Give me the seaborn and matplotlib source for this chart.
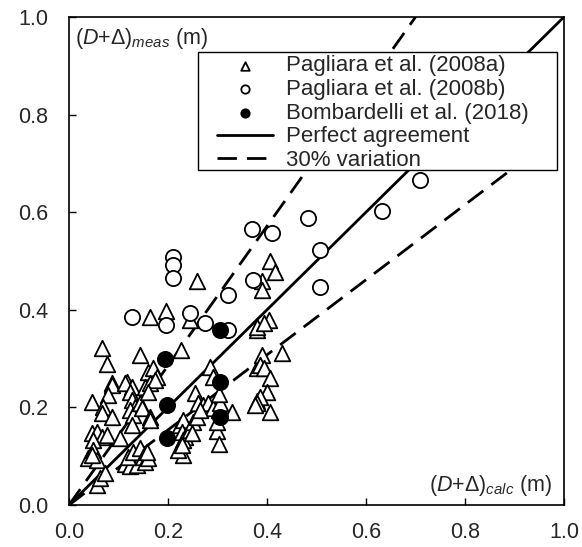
import numpy as np
import pandas as pd
import matplotlib
matplotlib.use('Agg')
import matplotlib.pyplot as plt
import matplotlib.patches as mpatches
import seaborn as sns

# Pagliara et al. (2008a) - triangles
tri_x = [0.258, 0.164, 0.196, 0.244, 0.066, 0.076, 0.143, 0.226, 0.160, 0.170, 0.178,
         0.285, 0.086, 0.117, 0.127, 0.291, 0.379, 0.380, 0.046, 0.086, 0.113, 0.079,
         0.069, 0.066, 0.086, 0.123, 0.127, 0.133, 0.123, 0.130, 0.127, 0.143, 0.147,
         0.164, 0.154, 0.164, 0.174, 0.160, 0.046, 0.056, 0.066, 0.076, 0.049, 0.103,
         0.039, 0.049, 0.056, 0.046, 0.056, 0.063, 0.073, 0.113, 0.123, 0.137, 0.120,
         0.130, 0.143, 0.150, 0.154, 0.160, 0.157, 0.164, 0.224, 0.231, 0.228, 0.234,
         0.231, 0.231, 0.244, 0.251, 0.258, 0.248, 0.221, 0.228, 0.255, 0.261, 0.271,
         0.281, 0.291, 0.302, 0.305, 0.302, 0.298, 0.302, 0.298, 0.329, 0.379, 0.265,
         0.406, 0.416, 0.389, 0.389, 0.403, 0.379, 0.393, 0.430, 0.389, 0.386, 0.393,
         0.406, 0.399, 0.386, 0.379, 0.406, 0.376]
tri_y = [0.458, 0.386, 0.398, 0.379, 0.321, 0.289, 0.307, 0.318, 0.273, 0.281, 0.263,
         0.283, 0.250, 0.253, 0.242, 0.263, 0.359, 0.280, 0.212, 0.246, 0.250, 0.225,
         0.201, 0.188, 0.181, 0.232, 0.215, 0.201, 0.195, 0.184, 0.164, 0.208, 0.198,
         0.181, 0.242, 0.249, 0.256, 0.232, 0.147, 0.150, 0.140, 0.143, 0.133, 0.137,
         0.096, 0.113, 0.092, 0.102, 0.041, 0.055, 0.065, 0.085, 0.079, 0.082, 0.099,
         0.109, 0.116, 0.099, 0.089, 0.096, 0.109, 0.174, 0.164, 0.174, 0.150, 0.140,
         0.133, 0.102, 0.154, 0.171, 0.181, 0.147, 0.113, 0.123, 0.229, 0.209, 0.205,
         0.209, 0.199, 0.195, 0.209, 0.227, 0.152, 0.125, 0.170, 0.191, 0.213, 0.195,
         0.499, 0.478, 0.458, 0.441, 0.379, 0.365, 0.372, 0.311, 0.307, 0.287, 0.280,
         0.260, 0.232, 0.222, 0.208, 0.191, 0.205]

# Pagliara et al. (2008b) - open circles
circ_x = [0.211, 0.211, 0.211, 0.127, 0.196, 0.244, 0.275, 0.322, 0.372, 0.322,
          0.507, 0.507, 0.709, 0.632, 0.483, 0.369, 0.411]
circ_y = [0.509, 0.492, 0.465, 0.386, 0.369, 0.394, 0.372, 0.430, 0.462, 0.359,
          0.523, 0.447, 0.666, 0.603, 0.589, 0.565, 0.557]

# Bombardelli et al. (2018) - filled circles
bomb_x = [0.305, 0.194, 0.305, 0.197, 0.197, 0.305]
bomb_y = [0.359, 0.300, 0.253, 0.205, 0.137, 0.181]

# reference lines
line_x = [0.0, 1.0]
upper_x = [0.0, 0.7]
lower_x = [0.0, 0.885]
upper_ratio = 1 / 0.7
lower_ratio = 1 / 1.3

sns.set_style('ticks')
plt.rcParams['font.family'] = ['Liberation Sans', 'DejaVu Sans']
plt.rcParams['mathtext.fontset'] = 'custom'
plt.rcParams['mathtext.rm'] = 'Liberation Sans'
plt.rcParams['mathtext.it'] = 'Liberation Sans:italic'

fig = plt.figure(figsize=(5.82, 5.47), dpi=100)
ax = fig.add_axes([0.1186, 0.0768, 0.8505, 0.8922])

tri = pd.DataFrame({'x': tri_x, 'y': tri_y})
circ = pd.DataFrame({'x': circ_x, 'y': circ_y})
bomb = pd.DataFrame({'x': bomb_x, 'y': bomb_y})

sns.scatterplot(data=tri, x='x', y='y', marker='^', s=125, facecolor='white',
                edgecolor='black', linewidth=1.3, ax=ax, label='Pagliara et al. (2008a)', zorder=3)
sns.scatterplot(data=circ, x='x', y='y', marker='o', s=120, facecolor='white',
                edgecolor='black', linewidth=1.3, ax=ax, label='Pagliara et al. (2008b)', zorder=3)
sns.scatterplot(data=bomb, x='x', y='y', marker='o', s=120, facecolor='black',
                edgecolor='black', linewidth=1.3, ax=ax, label='Bombardelli et al. (2018)', zorder=4)

lx = np.array(line_x)
ux = np.array(upper_x)
lwx = np.array(lower_x)
ax.plot(lx, lx, color='black', lw=2, label='Perfect agreement', zorder=2)
ax.plot(ux, ux * upper_ratio, color='black', lw=2, dashes=(7, 3.6), label='30% variation', zorder=2)
ax.plot(lwx, lwx * lower_ratio, color='black', lw=2, dashes=(7, 3.6), zorder=2)

ax.set_xlim(0, 1)
ax.set_ylim(0, 1)
ticks = [0.0, 0.2, 0.4, 0.6, 0.8, 1.0]
ax.set_xticks(ticks)
ax.set_yticks(ticks)
ax.set_xticklabels(['%.1f' % t for t in ticks])
ax.set_yticklabels(['%.1f' % t for t in ticks])
ax.tick_params(direction='in', length=5, width=1, labelsize=15.5, color='black')
ax.tick_params(axis='x', pad=12)
ax.tick_params(axis='y', pad=15)
ax.set_xlabel('')
ax.set_ylabel('')
for sp in ax.spines.values():
    sp.set_color('black')
    sp.set_linewidth(1.2)

ax.text(0.012, 0.982, r'$(\mathit{D}$+$\mathit{Δ})_{\mathit{meas}}$ (m)', transform=ax.transAxes,
        ha='left', va='top', fontsize=15.5)
ax.text(0.975, 0.015, r'$(\mathit{D}$+$\mathit{Δ})_{\mathit{calc}}$ (m)', transform=ax.transAxes,
        ha='right', va='bottom', fontsize=15.5)

# legend box drawn as a frame, entries placed inside it
box = mpatches.Rectangle((0.261, 0.686), 0.725, 0.242, transform=ax.transAxes,
                         facecolor='white', edgecolor='black', linewidth=1.0, zorder=5)
ax.add_patch(box)
leg = ax.legend(loc='upper left', bbox_to_anchor=(0.293, 0.928), fontsize=16,
                frameon=False, markerscale=0.55, handlelength=2.5, handletextpad=0.6,
                borderpad=0.15, labelspacing=0.12, borderaxespad=0)
leg.set_zorder(6)

fig.savefig('out.png', dpi=100)
